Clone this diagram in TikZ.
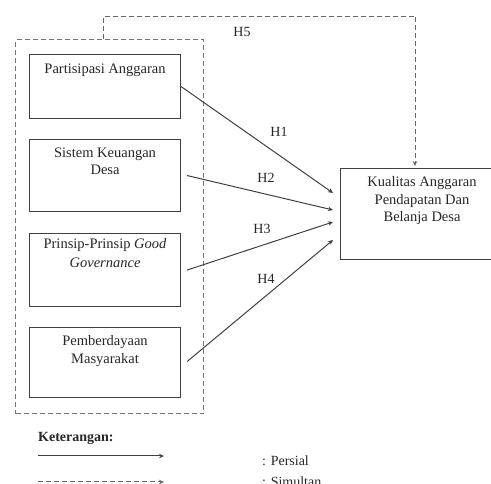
\documentclass[tikz,border=0pt]{standalone}
\usepackage{fontspec}
\setmainfont{Liberation Serif}
\usetikzlibrary{arrows.meta,calc}
\begin{document}
\begin{tikzpicture}[x=1pt,y=-1pt,
  box/.style={draw=black!75,line width=1.1pt,minimum width=151pt,minimum height=#1,inner sep=0pt,anchor=north west},
  txt/.style={font=\fontsize{14.5}{17.5}\selectfont,text=black!85,align=center,inner sep=0pt},
  lbl/.style={font=\fontsize{14}{16}\selectfont,text=black!85,inner sep=0pt},
  arr/.style={draw=black!75,line width=1pt,-{Stealth[length=5pt,width=4.5pt]}},
  darr/.style={draw=black!60,line width=1pt,dash pattern=on 5pt off 3pt,-{Stealth[length=5pt,width=4.5pt]}},
  dline/.style={draw=black!60,line width=1pt,dash pattern=on 5pt off 3pt}]
\useasboundingbox (0,0) rectangle (491,484);
% outer dashed group
\node[draw=black!55,line width=1.1pt,dash pattern=on 5pt off 3pt,minimum width=188pt,minimum height=374pt,anchor=north west,inner sep=0pt] (grp) at (15,39) {};
% boxes
\node[box=64pt] (b1) at (29,54) {};
\node[box=72pt] (b2) at (29,139) {};
\node[box=73pt] (b3) at (29,233) {};
\node[box=70pt] (b4) at (29,327) {};
\node[txt,anchor=north] (t1) at ($(b1.north)+(0,9.5)$) {Partisipasi Anggaran};
\node[txt,anchor=north] (t2) at ($(b2.north)+(0,8.5)$) {Sistem Keuangan\\Desa};
\node[txt,anchor=north,font=\fontsize{14.5}{19}\selectfont] (t3) at ($(b3.north)+(0,5.5)$) {Prinsip-Prinsip \textit{Good}\\\textit{Governance}};
\node[txt,anchor=north] (t4) at ($(b4.north)+(0,8.5)$) {Pemberdayaan\\Masyarakat};
% target
\node[draw=black!75,line width=1.1pt,minimum width=151pt,minimum height=91pt,anchor=north west,inner sep=0pt] (tg) at (340,168) {};
\node[txt,anchor=north] (tt) at ($(tg.north)+(6,8.5)$) {Kualitas Anggaran\\Pendapatan Dan\\Belanja Desa};
% arrow ends
\coordinate (e1) at ($(tg.north west)+(-7,25)$);
\coordinate (e2) at ($(tg.north west)+(-7,42)$);
\coordinate (e3) at ($(tg.north west)+(-7,54)$);
\coordinate (e4) at ($(tg.north west)+(-7,72)$);
\draw[arr] (b1.east) -- (e1);
\draw[arr] ($(b2.east)+(6,0)$) -- (e2);
\draw[arr] ($(b3.east)+(6,0)$) -- (e3);
\draw[arr] ($(b4.east)+(6,-1)$) -- (e4);
\node[lbl] (h1) at (279,132) {H1};
\node[lbl] (h2) at (266,178) {H2};
\node[lbl] (h3) at (262,229) {H3};
\node[lbl] (h4) at (266,279) {H4};
% H5
\coordinate (g5) at (103,39);
\coordinate (c5) at (103,17);
\coordinate (d5) at (415,17);
\draw[dline] (g5) -- (c5) -- (d5);
\draw[darr] (d5) -- ($(tg.north west)+(75,-2)$);
\node[lbl] (h5) at (242,32) {H5};
% legend
\node[font=\fontsize{14}{16}\selectfont\bfseries,text=black!85,anchor=west,inner sep=0pt] (ket) at (38,438) {Keterangan:};
\coordinate (l1a) at (38,456);
\coordinate (l1b) at (164,456);
\coordinate (l2a) at (38,482);
\coordinate (l2b) at (164,482);
\draw[arr] (l1a) -- (l1b);
\draw[darr] (l2a) -- (l2b);
\node[lbl,anchor=west] (p1) at (262,461) {: Persial};
\node[lbl,anchor=west] (p2) at (262,482) {: Simultan};
\end{tikzpicture}
\end{document}
